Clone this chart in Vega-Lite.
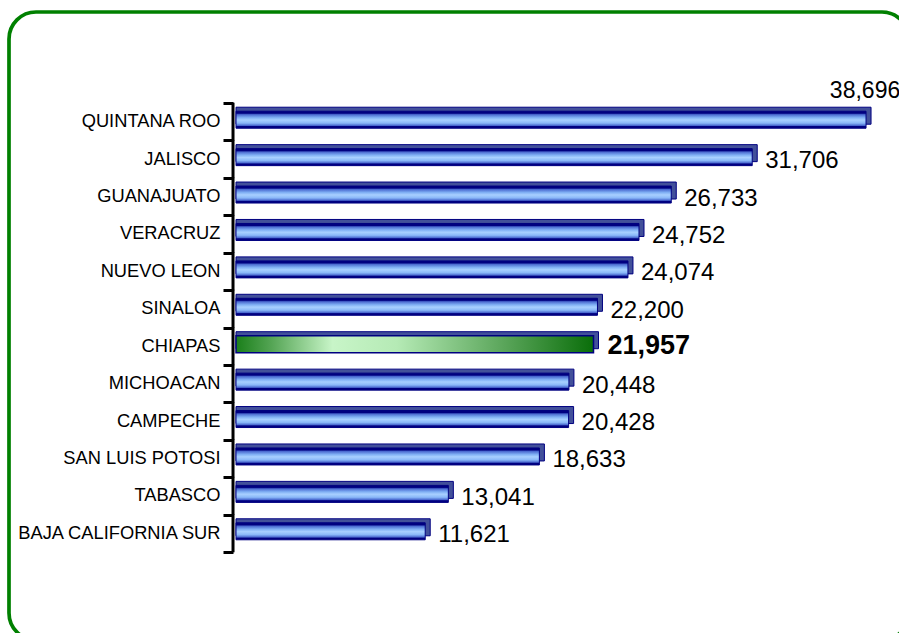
{
  "$schema": "https://vega.github.io/schema/vega-lite/v6.json",
  "width": 900,
  "height": 628,
  "autosize": {"type": "none"},
  "padding": {"left": 9, "top": 12, "right": -10, "bottom": -7},
  "background": "white",
  "config": {
    "view": {"stroke": "#008000", "strokeWidth": 3.7, "cornerRadius": 27, "fill": "white"},
    "font": "Liberation Sans"
  },
  "data": {
    "values": [
      {"state": "QUINTANA ROO", "value": 38696},
      {"state": "JALISCO", "value": 31706},
      {"state": "GUANAJUATO", "value": 26733},
      {"state": "VERACRUZ", "value": 24752},
      {"state": "NUEVO LEON", "value": 24074},
      {"state": "SINALOA", "value": 22200},
      {"state": "CHIAPAS", "value": 21957},
      {"state": "MICHOACAN", "value": 20448},
      {"state": "CAMPECHE", "value": 20428},
      {"state": "SAN LUIS POTOSI", "value": 18633},
      {"state": "TABASCO", "value": 13041},
      {"state": "BAJA CALIFORNIA SUR", "value": 11621}
    ]
  },
  "encoding": {
    "y": {
      "field": "state",
      "type": "nominal",
      "sort": null,
      "scale": {"paddingInner": 0, "paddingOuter": 0, "range": [91, 540]},
      "axis": {
        "title": null,
        "offset": -224,
        "domain": false,
        "grid": false,
        "tickBand": "extent",
        "tickSize": 10,
        "tickWidth": 3,
        "tickColor": "black",
        "labelFontSize": 18.3,
        "labelColor": "black",
        "labelPadding": 3,
        "labelLimit": 400,
        "labelFont": "Liberation Sans"
      }
    }
  },
  "layer": [
    {
      "mark": {"type": "tick", "orient": "vertical", "size": 38, "thickness": 3, "color": "black", "opacity": 1},
      "encoding": {
        "x": {"datum": -184, "type": "quantitative", "scale": {"domain": [-13943, 41335], "zero": false, "nice": false}, "axis": null}
      }
    },
    {
      "mark": {"type": "bar", "size": 17, "xOffset": 5, "yOffset": -6, "fill": "#42509a", "stroke": "#000080", "strokeWidth": 1},
      "encoding": {
        "x": {"field": "value", "type": "quantitative"},
        "x2": {"datum": 0}
      }
    },
    {
      "transform": [{"filter": "datum.state !== 'CHIAPAS'"}],
      "mark": {
        "type": "bar",
        "size": 17,
        "yOffset": -2,
        "stroke": "#000080",
        "strokeWidth": 1,
        "fill": {
          "gradient": "linear",
          "x1": 0, "y1": 0, "x2": 0, "y2": 1,
          "stops": [
            {"offset": 0, "color": "#000080"},
            {"offset": 0.12, "color": "#000080"},
            {"offset": 0.2, "color": "#4a6ad0"},
            {"offset": 0.38, "color": "#80b0f4"},
            {"offset": 0.52, "color": "#a8d0ff"},
            {"offset": 0.7, "color": "#8ab8f8"},
            {"offset": 0.84, "color": "#4a6ad0"},
            {"offset": 0.9, "color": "#000080"},
            {"offset": 1, "color": "#000080"}
          ]
        }
      },
      "encoding": {
        "x": {"field": "value", "type": "quantitative"},
        "x2": {"datum": 0}
      }
    },
    {
      "transform": [{"filter": "datum.state === 'CHIAPAS'"}],
      "mark": {
        "type": "bar",
        "size": 17,
        "yOffset": -2,
        "stroke": "#000080",
        "strokeWidth": 1.5,
        "fill": {
          "gradient": "linear",
          "x1": 0, "y1": 0, "x2": 1, "y2": 0,
          "stops": [
            {"offset": 0, "color": "#1a7f1a"},
            {"offset": 0.1, "color": "#55a555"},
            {"offset": 0.27, "color": "#c8f5c8"},
            {"offset": 0.45, "color": "#b5eab5"},
            {"offset": 0.75, "color": "#5aa55a"},
            {"offset": 1, "color": "#0a6e0a"}
          ]
        }
      },
      "encoding": {
        "x": {"field": "value", "type": "quantitative"},
        "x2": {"datum": 0}
      }
    },
    {
      "transform": [{"filter": "datum.state !== 'CHIAPAS' && datum.state !== 'QUINTANA ROO'"}],
      "mark": {"type": "text", "align": "left", "baseline": "middle", "dx": 13, "dy": 2, "fontSize": 24, "color": "black", "font": "Liberation Sans"},
      "encoding": {
        "x": {"field": "value", "type": "quantitative"},
        "text": {"field": "value", "type": "quantitative", "format": ","}
      }
    },
    {
      "transform": [{"filter": "datum.state === 'QUINTANA ROO'"}],
      "mark": {"type": "text", "align": "center", "baseline": "middle", "dx": -1, "dy": -31, "fontSize": 23, "color": "black", "font": "Liberation Sans"},
      "encoding": {
        "x": {"field": "value", "type": "quantitative"},
        "text": {"field": "value", "type": "quantitative", "format": ","}
      }
    },
    {
      "transform": [{"filter": "datum.state === 'CHIAPAS'"}],
      "mark": {"type": "text", "align": "left", "baseline": "middle", "dx": 14, "dy": 0, "fontSize": 27, "fontWeight": "bold", "color": "black", "font": "Liberation Sans"},
      "encoding": {
        "x": {"field": "value", "type": "quantitative"},
        "text": {"field": "value", "type": "quantitative", "format": ","}
      }
    }
  ]
}
